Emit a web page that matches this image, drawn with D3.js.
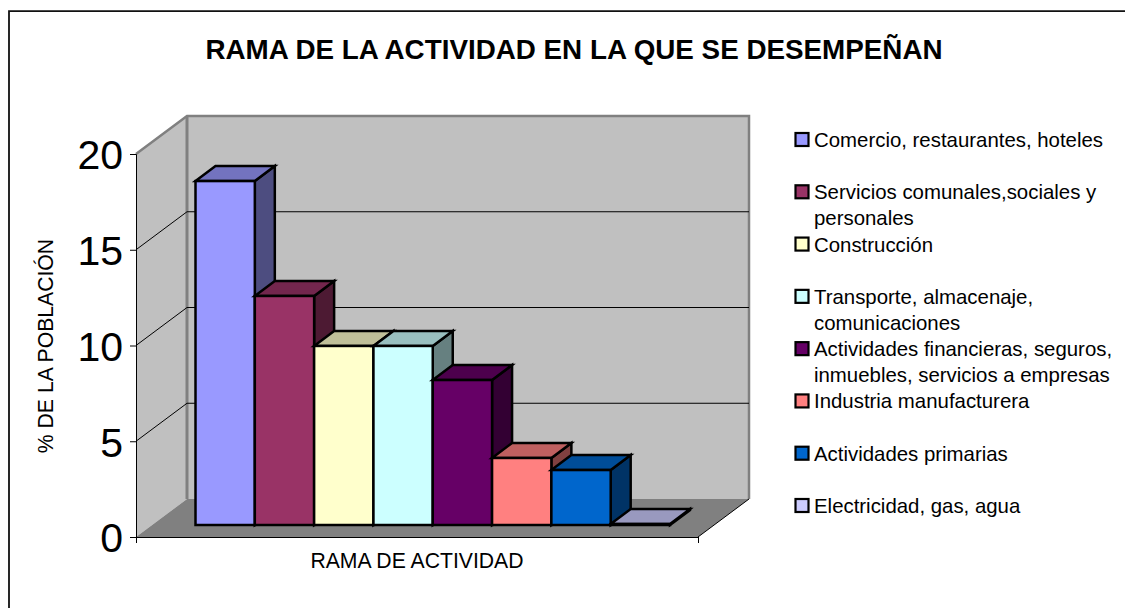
<!DOCTYPE html>
<html><head><meta charset="utf-8">
<script src="https://cdn.jsdelivr.net/npm/d3@7/dist/d3.min.js"></script>
<style>html,body{margin:0;padding:0;background:#fff}svg{display:block}text{font-family:"Liberation Sans",Arial,sans-serif;fill:#000}</style>
</head><body><svg id="c" width="1125" height="608"></svg>
<script>
const categories=["Comercio, restaurantes, hoteles","Servicios comunales,sociales y personales","Construcción","Transporte, almacenaje, comunicaciones","Actividades financieras, seguros, inmuebles, servicios a empresas","Industria manufacturera","Actividades primarias","Electricidad, gas, agua"];
const values=[17.96,11.96,9.35,9.35,7.57,3.5,2.87,0.05];
const colors=["#9999ff","#993366","#ffffcc","#ccffff","#660066","#ff8080","#0066cc","#ccccff"];
const legendLines=[["Comercio, restaurantes, hoteles"],["Servicios comunales,sociales y","personales"],["Construcción"],["Transporte, almacenaje,","comunicaciones"],["Actividades financieras, seguros,","inmuebles, servicios a empresas"],["Industria manufacturera"],["Actividades primarias"],["Electricidad, gas, agua"]];
const yTicks=[0,5,10,15,20];
const gridTicks=[5,10,15];
const titleText="RAMA DE LA ACTIVIDAD EN LA QUE SE DESEMPEÑAN";
const yTitle="% DE LA POBLACIÓN";
const xTitle="RAMA DE ACTIVIDAD";

const svg=d3.select("#c");
const F={x0:136,x1:698,y0:537,y1:154};      // front plane
const wall={dx:51,dy:-38};                  // chart depth
const barLift=-12;                          // bars stand inside the floor
const barDepth={dx:20,dy:-15};
const y=d3.scaleLinear().domain([0,20]).range([F.y0,F.y1]);
const yBack=d=>y(d)+wall.dy;
const yBar=d=>y(d)+barLift;
const x=d3.scaleBand().domain(categories).range([195.5,670]).padding(0);
const legendBaseline=d3.scaleLinear().domain([0,7]).range([147,513]);
const poly=pts=>pts.map(p=>p.join(",")).join(" ");

// outer frame (open on the right and bottom)
svg.append("path").attr("d","M9,608V11.2H1125").attr("fill","none").attr("stroke","#111").attr("stroke-width",1.8);

// walls
const g=svg.append("g");
g.append("polygon").attr("points",poly([[F.x0,F.y1],[F.x0+wall.dx,F.y1+wall.dy],[F.x0+wall.dx,F.y0+wall.dy],[F.x0,F.y0]])).attr("fill","#c0c0c0");
g.append("polygon").attr("points",poly([[F.x0+wall.dx,F.y1+wall.dy],[F.x1+wall.dx,F.y1+wall.dy],[F.x1+wall.dx,F.y0+wall.dy],[F.x0+wall.dx,F.y0+wall.dy]])).attr("fill","#c0c0c0");
g.append("polygon").attr("points",poly([[F.x0,F.y0],[F.x0+wall.dx,F.y0+wall.dy],[F.x1+wall.dx,F.y0+wall.dy],[F.x1,F.y0]])).attr("fill","#808080");
// wall rims
g.append("path").attr("d",`M${F.x0},${F.y1}L${F.x0+wall.dx},${F.y1+wall.dy}H${F.x1+wall.dx}V${F.y0+wall.dy}`).attr("fill","none").attr("stroke","#808080").attr("stroke-width",2.5);
g.append("path").attr("d",`M${F.x0+wall.dx},${F.y1+wall.dy}V${F.y0+wall.dy}`).attr("fill","none").attr("stroke","#808080").attr("stroke-width",3);
// gridlines
gridTicks.forEach(t=>{
  g.append("path").attr("d",`M${F.x0},${y(t)}L${F.x0+wall.dx},${yBack(t)}H${F.x1+wall.dx}`).attr("fill","none").attr("stroke","#000").attr("stroke-width",1);
});
// front floor edge
g.append("path").attr("d",`M${F.x1},${F.y0}L${F.x1+wall.dx},${F.y0+wall.dy}`).attr("stroke","#000").attr("stroke-width",1);

// bars
const bars=svg.append("g").attr("stroke","#000").attr("stroke-width",2.5).attr("stroke-linejoin","miter");
categories.forEach((c,i)=>{
  const l=x(c),r=l+x.bandwidth(),t=yBar(values[i]),b=yBar(0);
  const col=d3.rgb(colors[i]);
  const mix=k=>d3.rgb(col.r*k,col.g*k,col.b*k).formatHex();
  bars.append("polygon").attr("points",poly([[r,t],[r+barDepth.dx,t+barDepth.dy],[r+barDepth.dx,b+barDepth.dy],[r,b]])).attr("fill",mix(0.5));
  bars.append("polygon").attr("points",poly([[l,t],[l+barDepth.dx,t+barDepth.dy],[r+barDepth.dx,t+barDepth.dy],[r,t]])).attr("fill",mix(0.75));
  bars.append("rect").attr("x",l).attr("y",t).attr("width",r-l).attr("height",b-t).attr("fill",col.formatHex());
});

// axes
const ax=d3.axisLeft(y).tickValues(yTicks).tickSize(6).tickPadding(7);
const ag=svg.append("g").attr("transform",`translate(${F.x0},0)`).call(ax);
ag.selectAll("text").style("font-size","41px").attr("dy","0.36em");
ag.selectAll("path,line").attr("stroke","#000");
const xa=d3.axisBottom(d3.scaleLinear().domain([0,1]).range([F.x0,F.x1])).tickValues([0,1]).tickSize(6).tickFormat("");
svg.append("g").attr("transform",`translate(0,${F.y0})`).call(xa).selectAll("path,line").attr("stroke","#000");

// titles
svg.append("text").attr("x",574).attr("y",59).attr("text-anchor","middle").style("font-size","27.8px").style("font-weight","bold").text(titleText);
svg.append("text").attr("transform","translate(53,346) rotate(-90)").attr("text-anchor","middle").style("font-size","21.2px").text(yTitle);
svg.append("text").attr("x",417).attr("y",568).attr("text-anchor","middle").style("font-size","21.2px").text(xTitle);

// legend
const leg=svg.append("g");
categories.forEach((c,i)=>{
  const by=legendBaseline(i);
  leg.append("rect").attr("x",795.5).attr("y",by-14).attr("width",13).attr("height",13).attr("fill",colors[i]).attr("stroke","#000").attr("stroke-width",2.2);
  legendLines[i].forEach((t,j)=>{
    leg.append("text").attr("x",814).attr("y",by+j*26).style("font-size","20.4px").text(t);
  });
});
</script></body></html>
